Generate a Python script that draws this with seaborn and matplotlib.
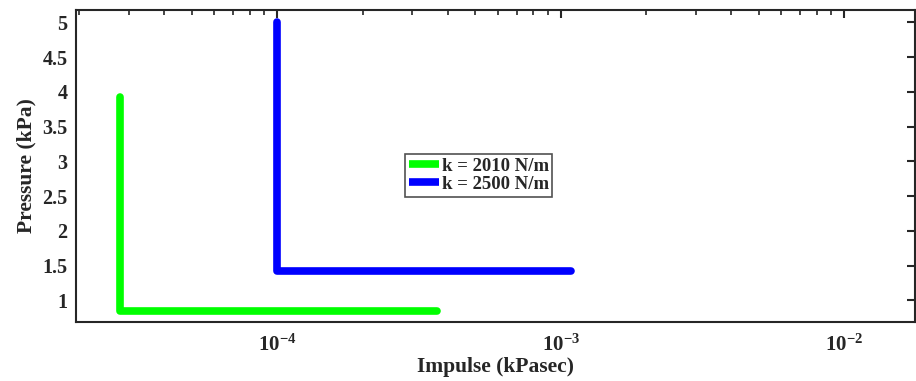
import matplotlib
matplotlib.use("Agg")
import matplotlib.pyplot as plt
import seaborn as sns
import pandas as pd
import numpy as np
from matplotlib.ticker import LogLocator, NullFormatter, FixedLocator, FuncFormatter

sns.set_theme(style="white")
plt.rcParams['font.family'] = ['Liberation Serif', 'DejaVu Serif']
plt.rcParams['mathtext.fontset'] = 'custom'
plt.rcParams['mathtext.rm'] = 'Liberation Serif:bold'
plt.rcParams['mathtext.bf'] = 'Liberation Serif:bold'
plt.rcParams['mathtext.default'] = 'bf'

# Data
series_names = ["k = 2010 N/m", "k = 2500 N/m"]
impulse_2010 = [2.79e-5, 2.79e-5, 3.65e-4]
pressure_2010 = [3.93, 0.84, 0.84]
impulse_2500 = [1.0e-4, 1.0e-4, 1.09e-3]
pressure_2500 = [5.0, 1.42, 1.42]
colors = ["#00ff00", "#0000ff"]
y_ticks = [1, 1.5, 2, 2.5, 3, 3.5, 4, 4.5, 5]
y_tick_labels = ["1", "1.5", "2", "2.5", "3", "3.5", "4", "4.5", "5"]

df = pd.DataFrame({
    "Impulse": impulse_2010 + impulse_2500,
    "Pressure": pressure_2010 + pressure_2500,
    "Series": [series_names[0]] * len(impulse_2010) + [series_names[1]] * len(impulse_2500),
})

fig = plt.figure(figsize=(9.16, 3.81), dpi=100)
ax = fig.add_axes([76 / 916, 1 - 322 / 381, 839 / 916, 312 / 381])

sns.lineplot(data=df, x="Impulse", y="Pressure", hue="Series", palette=colors,
             sort=False, estimator=None, units="Series", linewidth=5.5, ax=ax,
             solid_joinstyle="round", solid_capstyle="round")

ax.set_xscale("log")
ax.set_xlim(1.95e-5, 1.78e-2)
ax.set_ylim(0.687, 5.18)
ax.yaxis.set_major_locator(FixedLocator(y_ticks))
ax.set_yticklabels(y_tick_labels)
ax.xaxis.set_major_locator(LogLocator(base=10, numticks=10))
ax.xaxis.set_minor_locator(LogLocator(base=10, subs=range(2, 10), numticks=20))
ax.xaxis.set_minor_formatter(NullFormatter())
ax.xaxis.set_major_formatter(FuncFormatter(
    lambda v, p: r"$10^{\mathrm{-%d}}$" % int(round(-np.log10(v)))))

for s in ax.spines.values():
    s.set_color("#262626")
    s.set_linewidth(1.5)

ax.tick_params(axis="both", which="both", direction="in", top=True, right=True,
               color="#262626")
ax.tick_params(axis="both", which="major", length=6, width=1.5, labelsize=14.5, pad=6)
ax.tick_params(axis="x", which="major", labelsize=15, pad=9)
ax.tick_params(axis="x", which="minor", length=3.5, width=1.2)
for lab in ax.get_xticklabels() + ax.get_yticklabels():
    lab.set_fontweight("bold")
    lab.set_color("#262626")

ax.set_xlabel("Impulse (kPasec)", fontsize=15.5, fontweight="bold", color="#262626", labelpad=1)
ax.set_ylabel("Pressure (kPa)", fontsize=15.5, fontweight="bold", color="#262626", labelpad=4)

leg = ax.legend(loc="center", bbox_to_anchor=(0.48, 0.47), frameon=True, fancybox=False,
                handlelength=1.6, handletextpad=0.15, borderpad=0.2, labelspacing=0.05,
                borderaxespad=0,
                prop={"family": "Liberation Serif", "weight": "bold", "size": 13.5})
leg.get_frame().set_edgecolor("#262626")
leg.get_frame().set_linewidth(1.2)
for line in leg.get_lines():
    line.set_linewidth(5.5)
    line.set_solid_capstyle("butt")

fig.savefig("out.png", dpi=100)
